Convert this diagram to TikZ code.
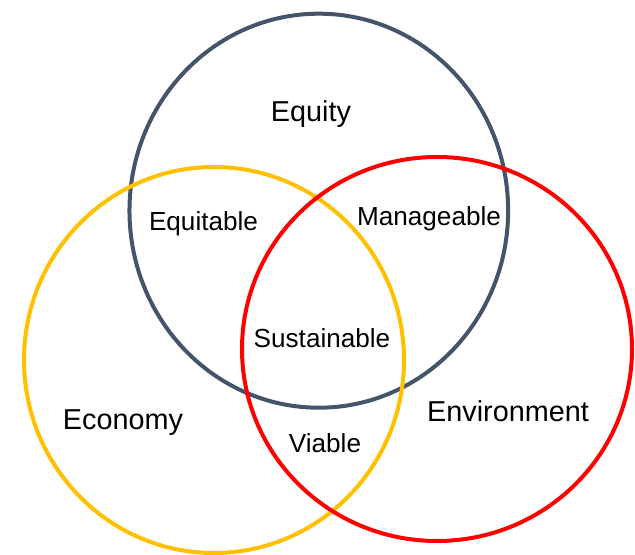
\documentclass[tikz,border=0pt]{standalone}
\usepackage{fontspec}
\setmainfont{Liberation Sans}
\usepackage{tikz}
\definecolor{equitygray}{HTML}{44546A}
\definecolor{economyyellow}{HTML}{FFC000}
\definecolor{environmentred}{HTML}{FF0000}
\tikzset{ring/.style={line width=3pt},
  biglabel/.style={anchor=base,inner sep=0pt,font=\fontsize{21.6}{26}\selectfont},
  smalllabel/.style={anchor=base,inner sep=0pt,font=\fontsize{19.6}{24}\selectfont}}

\begin{document}
\begin{tikzpicture}[x=0.75pt,y=-0.75pt]
       \useasboundingbox (0,0) rectangle (635,555);
       \draw[ring,equitygray] (318.8,210.7) ellipse [x radius=142pt, y radius=147.75pt];
       \draw[ring,economyyellow] (214,360) ellipse [x radius=142.5pt, y radius=144.75pt];
       \draw[ring,environmentred] (437,349) ellipse [x radius=146.25pt, y radius=144pt];
       \node[biglabel] (equity) at (311,122) {Equity};
       \node[biglabel] (economy) at (123,430) {Economy};
       \node[biglabel] (environment) at (508,422) {Environment};
       \node[smalllabel] (equitable) at (203.5,231) {Equitable};
       \node[smalllabel] (manageable) at (429,226) {Manageable};
       \node[smalllabel] (sustainable) at (322,348) {Sustainable};
       \node[smalllabel] (viable) at (325,453) {Viable};
      \end{tikzpicture}
\end{document}
